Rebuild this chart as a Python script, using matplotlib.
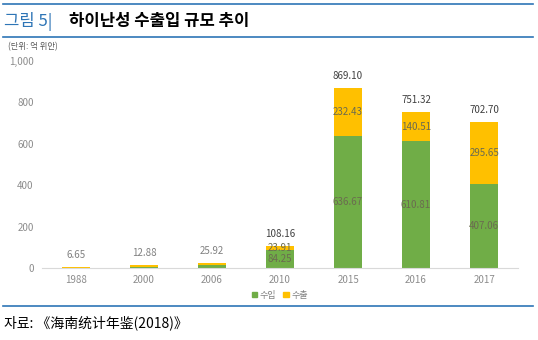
import matplotlib
matplotlib.use("Agg")
import matplotlib.pyplot as plt
from matplotlib.lines import Line2D
import matplotlib.patches as mpatches

plt.rcParams['font.family'] = ['Noto Sans CJK KR', 'DejaVu Sans']

# data (unit: 100 million yuan)
years = ['1988', '2000', '2006', '2010', '2015', '2016', '2017']
imports = [1.5, 4.5, 15.0, 84.25, 636.67, 610.81, 407.06]
exports = [5.15, 8.38, 10.92, 23.91, 232.43, 140.51, 295.65]
totals = ['6.65', '12.88', '25.92', '108.16', '869.10', '751.32', '702.70']
yticks = [0, 200, 400, 600, 800, 1000]
ytick_labels = ['0', '200', '400', '600', '800', '1,000']

green = '#70AD47'
yellow = '#FFC000'
blue = '#2E75B6'

fig = plt.figure(figsize=(5.38, 3.4), dpi=100)
ax = fig.add_axes([0.078, 0.212, 0.885, 0.609])

x = list(range(len(years)))
ax.bar(x, imports, width=0.4, color=green, zorder=2)
ax.bar(x, exports, width=0.4, bottom=imports, color=yellow, zorder=2)

# labels inside segments (only where the bar is tall enough)
for i in x:
    tot = imports[i] + exports[i]
    if tot > 100:
        ax.text(i, imports[i] / 2, f'{imports[i]:.2f}', ha='center', va='center',
                fontsize=7, color='#6b6b50')
        ax.text(i, imports[i] + exports[i] / 2, f'{exports[i]:.2f}', ha='center',
                va='center', fontsize=7, color='#6b6b50')
    ax.text(i, tot + 58, totals[i], ha='center', va='center', fontsize=7,
            color='#404040' if tot > 100 else '#808080')

ax.set_xlim(-0.5, 6.5)
ax.set_ylim(0, 1000)
ax.set_yticks(yticks)
ax.set_yticklabels(ytick_labels)
ax.set_xticks(x)
ax.set_xticklabels(years)
ax.tick_params(axis='both', length=0, labelsize=7, labelcolor='#8c8c8c')
ax.tick_params(axis='y', pad=6)
ax.tick_params(axis='x', pad=5)
for s in ['top', 'right', 'left']:
    ax.spines[s].set_visible(False)
ax.spines['bottom'].set_color('#D9D9D9')

# legend
handles = [mpatches.Patch(color=green, label='수입'), mpatches.Patch(color=yellow, label='수출')]
fig.legend(handles=handles, loc='center', bbox_to_anchor=(0.52, 0.132), ncol=2, frameon=False,
           fontsize=6.5, handlelength=0.6, handleheight=0.6, handletextpad=0.3,
           columnspacing=0.8, labelcolor='#808080')

# unit label
fig.text(0.015, 0.862, '(단위: 억 위안)', fontsize=6, color='#595959', va='center')

# header lines and title
fig.add_artist(Line2D([0.006, 0.99], [0.988, 0.988], color=blue, lw=1.2))
fig.add_artist(Line2D([0.006, 0.99], [0.891, 0.891], color=blue, lw=1.2))
fig.text(0.008, 0.937, '그림 5|', fontsize=12, color=blue, va='center')
fig.text(0.128, 0.937, '하이난성 수출입 규모 추이', fontsize=12, color='black',
         fontweight='bold', va='center')

# bottom line and source
fig.add_artist(Line2D([0.006, 0.99], [0.1, 0.1], color=blue, lw=1.2))
fig.text(0.008, 0.052, '자료: 《海南统计年鉴(2018)》', fontsize=10, color='black', va='center')

fig.savefig('out.png', dpi=100, facecolor='white')
